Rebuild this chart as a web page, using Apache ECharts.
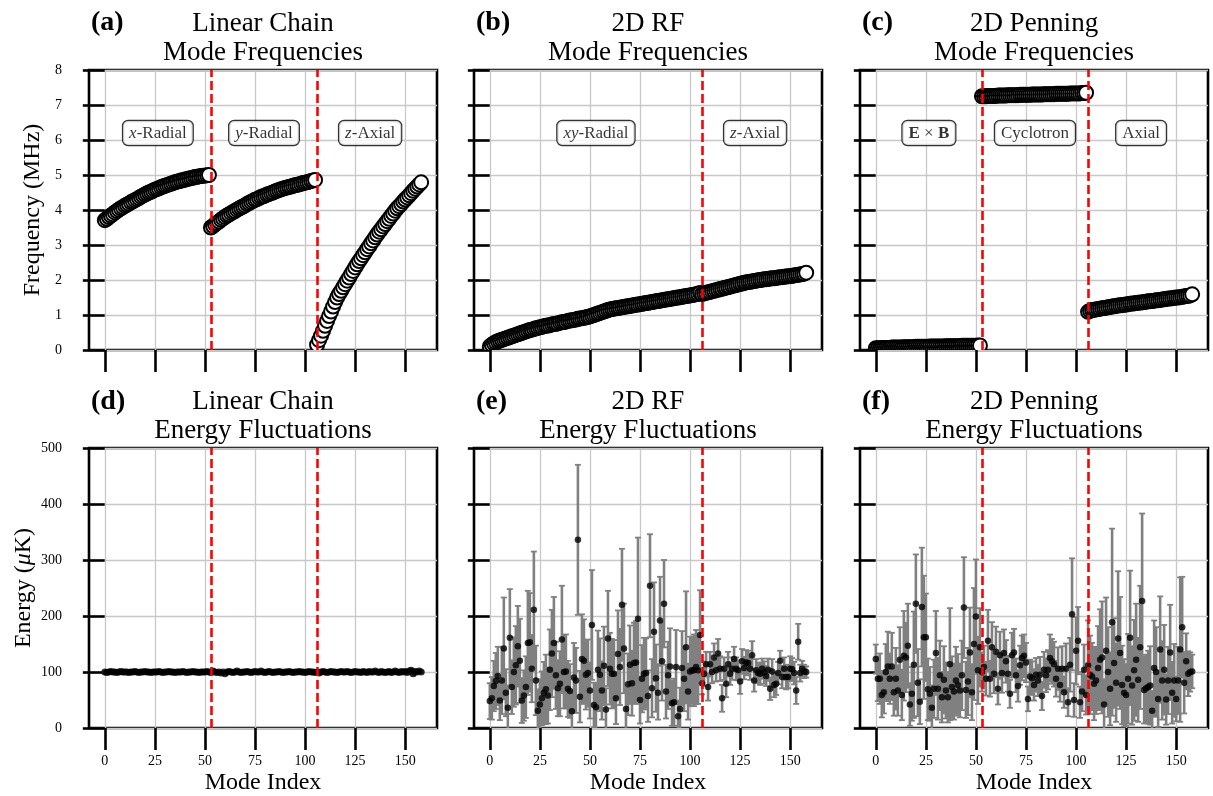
<!DOCTYPE html>
<html><head><meta charset="utf-8">
<script src="https://cdn.jsdelivr.net/npm/echarts@6/dist/echarts.min.js"></script>
<style>html,body{margin:0;padding:0;background:#fff}#c{width:1213px;height:796px}</style>
</head><body><div id="c"></div>
<script>
// ---------------- DATA ----------------
const xTicks = [0, 25, 50, 75, 100, 125, 150];

// Linear chain mode frequencies (MHz): x-Radial (0-52), y-Radial (53-105), z-Axial (106-158)
const freqLinear = [
 3.71,3.75,3.80,3.84,3.88,3.93,3.97,4.01,4.05,4.08,
 4.12,4.15,4.18,4.22,4.25,4.28,4.31,4.34,4.38,4.41,
 4.44,4.47,4.50,4.52,4.55,4.58,4.60,4.62,4.65,4.67,
 4.69,4.71,4.73,4.75,4.77,4.79,4.81,4.82,4.84,4.85,
 4.87,4.88,4.90,4.91,4.92,4.94,4.95,4.96,4.97,4.98,
 4.98,4.99,5.00,
 3.50,3.54,3.59,3.63,3.67,3.72,3.76,3.80,3.84,3.87,
 3.91,3.94,3.97,4.01,4.04,4.07,4.10,4.13,4.17,4.20,
 4.23,4.26,4.29,4.31,4.34,4.37,4.39,4.41,4.44,4.46,
 4.48,4.50,4.53,4.55,4.57,4.59,4.61,4.63,4.64,4.66,
 4.67,4.69,4.71,4.72,4.73,4.75,4.77,4.78,4.79,4.81,
 4.83,4.84,4.86,
 0.15,0.28,0.41,0.55,0.69,0.83,0.97,1.10,1.24,1.37,
 1.50,1.60,1.69,1.79,1.88,1.98,2.07,2.17,2.26,2.36,
 2.45,2.54,2.62,2.71,2.79,2.88,2.96,3.05,3.13,3.22,
 3.30,3.38,3.45,3.53,3.60,3.68,3.75,3.83,3.90,3.98,
 4.05,4.11,4.17,4.24,4.30,4.36,4.42,4.48,4.55,4.61,
 4.67,4.73,4.79
];

// 2D RF mode frequencies (MHz): xy-Radial (0-105), z-Axial (106-158)
const freqRF = [
 0.10,0.15,0.19,0.22,0.25,0.27,0.29,0.31,0.33,0.35,
 0.37,0.39,0.41,0.43,0.45,0.47,0.49,0.51,0.53,0.55,
 0.57,0.58,0.60,0.62,0.63,0.65,0.66,0.68,0.69,0.70,
 0.71,0.73,0.74,0.75,0.76,0.78,0.79,0.80,0.81,0.83,
 0.84,0.85,0.86,0.87,0.89,0.90,0.91,0.92,0.93,0.95,
 0.96,0.98,1.00,1.02,1.04,1.06,1.08,1.10,1.12,1.14,
 1.16,1.17,1.18,1.19,1.20,1.21,1.22,1.23,1.24,1.25,
 1.26,1.27,1.28,1.29,1.30,1.31,1.32,1.33,1.34,1.35,
 1.36,1.37,1.38,1.39,1.40,1.41,1.42,1.43,1.44,1.45,
 1.46,1.47,1.48,1.49,1.50,1.51,1.52,1.53,1.54,1.55,
 1.56,1.57,1.58,1.59,1.61,1.63,
 1.60,1.62,1.63,1.65,1.66,1.68,1.69,1.71,1.72,1.74,
 1.75,1.77,1.78,1.80,1.81,1.83,1.84,1.86,1.87,1.89,
 1.90,1.92,1.93,1.94,1.95,1.96,1.97,1.98,1.99,2.00,
 2.01,2.02,2.02,2.03,2.04,2.05,2.05,2.06,2.07,2.08,
 2.08,2.09,2.10,2.11,2.11,2.12,2.13,2.14,2.15,2.16,
 2.17,2.18,2.21
];

// 2D Penning mode frequencies (MHz): ExB (0-52), Cyclotron (53-105), Axial (106-158)
const freqPenning = [
 0.05,0.05,0.05,0.06,0.06,0.06,0.06,0.06,0.07,0.07,
 0.07,0.07,0.07,0.07,0.08,0.08,0.08,0.08,0.08,0.08,
 0.09,0.09,0.09,0.09,0.09,0.09,0.09,0.10,0.10,0.10,
 0.10,0.10,0.10,0.10,0.10,0.11,0.11,0.11,0.11,0.11,
 0.11,0.11,0.11,0.12,0.12,0.12,0.12,0.12,0.12,0.12,
 0.12,0.13,0.13,
 7.25,7.25,7.25,7.26,7.26,7.26,7.26,7.26,7.27,7.27,
 7.27,7.27,7.27,7.28,7.28,7.28,7.28,7.28,7.28,7.29,
 7.29,7.29,7.29,7.29,7.29,7.30,7.30,7.30,7.30,7.30,
 7.30,7.31,7.31,7.31,7.31,7.31,7.31,7.32,7.32,7.32,
 7.32,7.32,7.32,7.32,7.33,7.33,7.33,7.33,7.33,7.33,
 7.34,7.34,7.35,
 1.09,1.12,1.14,1.15,1.16,1.17,1.18,1.19,1.20,1.21,
 1.22,1.23,1.24,1.25,1.26,1.27,1.28,1.28,1.29,1.30,
 1.31,1.32,1.33,1.33,1.34,1.35,1.36,1.36,1.37,1.38,
 1.39,1.39,1.40,1.41,1.42,1.42,1.43,1.44,1.45,1.46,
 1.47,1.47,1.48,1.49,1.50,1.50,1.51,1.52,1.53,1.54,
 1.55,1.56,1.59
];

// Energy fluctuations (uK) and their error bars
const energyLinear = [
 100,99,100,101,100,100,99,100,101,100,
 100,100,99,100,100,101,100,99,100,100,
 101,100,100,99,100,100,100,101,100,99,
 100,100,101,100,100,99,100,100,100,101,
 100,99,100,100,101,100,100,99,100,100,
 100,101,100,99,102,100,99,100,98,100,
 97,100,101,100,99,100,102,100,99,100,
 100,101,100,99,100,101,100,100,102,100,
 99,100,101,100,99,100,100,101,100,99,
 100,100,101,100,99,100,100,101,100,100,
 99,100,101,100,100,99,100,98,100,101,
 100,99,100,101,100,100,99,100,101,100,
 100,101,100,99,100,101,100,100,99,101,
 100,99,101,100,100,102,100,99,101,100,
 99,100,101,99,100,102,100,99,101,100,
 101,99,102,103,97,101,100,102,100
];
const errLinear = [
 1,2,1,2,1,1,2,1,2,1, 2,1,1,2,1,2,1,1,2,1, 1,2,1,1,2,1,2,1,1,2,
 2,1,2,1,1,2,1,2,1,1, 1,1,2,1,2,1,1,2,1,2, 2,1,1,2,2,1,2,1,2,1,
 2,1,2,1,1,2,2,1,1,2, 1,2,1,1,2,1,2,1,2,1, 1,1,2,2,1,1,2,1,1,2,
 2,1,1,2,1,2,1,1,2,1, 1,2,1,1,2,1,1,2,2,1, 2,1,2,1,1,2,1,1,2,1,
 1,2,1,2,1,1,2,1,1,2, 2,1,2,1,2,2,1,2,1,1, 1,2,2,1,1,2,1,2,2,1,
 2,2,2,3,3,2,2,2,2
];
const energyRF = [
 48,53,75,84,93,49,85,142,63,36,
 161,73,100,112,146,120,49,58,73,152,
 153,106,211,85,31,42,53,63,69,58,
 104,133,152,94,71,79,158,100,101,70,
 66,30,90,85,336,56,123,120,95,98,
 67,184,41,37,104,95,67,111,33,160,
 106,97,97,53,132,109,220,142,34,78,
 113,80,116,117,195,50,88,97,98,57,
 254,71,172,89,63,192,119,222,65,94,
 110,44,46,109,21,34,107,88,144,65,
 101,103,103,109,103,166,80,97,114,73,
 114,100,126,103,133,106,53,106,79,114,
 97,106,123,106,103,83,119,107,117,116,
 106,130,85,103,98,97,106,99,93,104,
 70,101,77,79,98,120,91,106,91,91,
 106,105,98,67,154,98,106,101,100
];
const errRF = [
 32,38,45,50,52,35,60,91,42,40,
 87,48,62,70,72,75,40,45,55,93,
 88,60,104,62,38,45,48,55,62,50,
 72,78,82,60,50,58,96,65,66,50,
 48,36,62,58,134,46,80,74,62,60,
 50,98,40,42,70,65,52,70,38,85,
 64,62,60,46,78,68,100,80,38,55,
 70,58,72,74,145,42,60,64,62,46,
 92,52,88,60,48,78,70,78,48,60,
 68,40,42,66,28,38,66,58,100,50,
 62,60,64,66,60,80,20,22,22,24,
 22,20,25,20,26,22,24,20,24,22,
 20,20,22,20,18,22,22,20,22,22,
 20,25,20,20,18,20,18,20,18,20,
 20,22,22,20,20,18,20,20,22,20,
 22,20,20,24,32,15,14,12,10
];
const energyPenning = [
 123,88,88,59,64,100,110,88,110,64,
 88,67,122,59,129,126,147,42,61,113,
 222,81,47,216,162,162,69,61,36,70,
 134,70,94,55,86,67,55,114,73,65,
 85,77,67,94,215,68,83,135,64,150,
 199,103,144,100,109,88,156,88,144,97,
 136,70,130,98,134,119,97,61,130,135,
 94,75,112,125,129,117,52,92,89,77,
 95,85,95,57,104,94,104,125,119,114,
 88,106,77,106,64,106,46,113,203,50,
 138,156,46,65,104,59,112,95,92,79,
 85,107,122,126,42,138,100,70,189,116,
 81,160,134,77,63,59,88,161,76,103,
 122,86,144,227,68,71,73,76,31,107,
 100,52,140,85,104,51,85,135,63,85,
 52,85,140,180,81,119,97,100,101
];
const errPenning = [
 26,40,45,40,38,50,62,45,60,42,
 55,45,58,45,80,62,75,38,48,95,
 88,60,40,106,110,78,55,48,40,52,
 75,55,62,45,60,50,45,100,55,50,
 60,55,48,62,90,50,60,80,50,100,
 102,60,70,35,38,30,55,32,45,35,
 45,28,42,35,42,38,32,25,40,42,
 30,28,35,40,38,35,22,30,30,28,
 30,28,32,25,32,30,35,42,40,40,
 32,38,30,40,28,45,25,48,100,30,
 60,60,28,35,45,35,80,70,60,65,
 60,75,90,100,45,95,80,65,167,80,
 70,120,100,70,60,55,80,120,70,90,
 100,75,110,156,60,60,65,70,35,85,
 80,50,95,70,80,45,60,85,55,65,
 40,60,129,90,55,50,40,35,30
];

const dividersLinear = [53, 106];
const dividersRF = [106];
const dividersPenning = [53, 106];

const titleTexts = [
 'Linear Chain\nMode Frequencies', '2D RF\nMode Frequencies', '2D Penning\nMode Frequencies',
 'Linear Chain\nEnergy Fluctuations', '2D RF\nEnergy Fluctuations', '2D Penning\nEnergy Fluctuations'
];
const panelTags = ['(a)', '(b)', '(c)', '(d)', '(e)', '(f)'];

const regionLabelsLinear = [[26.5, 6.2, '{i|x}-Radial'], [79.5, 6.2, '{i|y}-Radial'], [132.5, 6.2, '{i|z}-Axial']];
const regionLabelsRF = [[53, 6.2, '{i|xy}-Radial'], [132.5, 6.2, '{i|z}-Axial']];
const regionLabelsPenning = [[26.5, 6.2, '{b|E} × {b|B}'], [79.5, 6.2, 'Cyclotron'], [132.5, 6.2, 'Axial']];

// ---------------- LAYOUT / STYLE ----------------
const FONT = '"Liberation Serif", "DejaVu Serif", serif';
const colLeft = [89, 474, 860];
const rowTop = [70, 448];
const rowH = [280, 281];
const W = 348;

const topFreq = [freqLinear, freqRF, freqPenning];
const topDiv = [dividersLinear, dividersRF, dividersPenning];
const topLabels = [regionLabelsLinear, regionLabelsRF, regionLabelsPenning];
const botE = [energyLinear, energyRF, energyPenning];
const botErr = [errLinear, errRF, errPenning];

function renderOpen(params, api) {
  const p = api.coord([api.value(0), api.value(1)]);
  return { type: 'circle', shape: { cx: p[0], cy: p[1], r: 7 },
           style: { fill: '#ffffff', stroke: '#000000', lineWidth: 2 } };
}
function renderErr(params, api) {
  const x = api.value(0), y = api.value(1), e = api.value(2);
  const lo = api.coord([x, y - e]);
  const hi = api.coord([x, y + e]);
  const cw = 3;
  const bar = { stroke: '#808080', lineWidth: 2.6 };
  const cap = { stroke: '#808080', lineWidth: 1.8 };
  return { type: 'group', children: [
    { type: 'line', shape: { x1: lo[0], y1: lo[1], x2: hi[0], y2: hi[1] }, style: bar },
    { type: 'line', shape: { x1: hi[0] - cw, y1: hi[1], x2: hi[0] + cw, y2: hi[1] }, style: cap },
    { type: 'line', shape: { x1: lo[0] - cw, y1: lo[1], x2: lo[0] + cw, y2: lo[1] }, style: cap }
  ]};
}

const grids = [], xAxes = [], yAxes = [], series = [], graphics = [];
const gridLineMark = {
  silent: true, z: 1, symbol: ['none', 'none'], label: { show: false },
  lineStyle: { color: '#c8c8c8', type: 'solid', width: 1.3 },
  data: xTicks.map(v => ({ xAxis: v })), animation: false
};
function redMark(divs) {
  return { silent: true, z: 5, symbol: ['none', 'none'], label: { show: false },
    lineStyle: { color: '#ff0000', type: [9, 4], width: 2.6 },
    data: divs.map(v => ({ xAxis: v })), animation: false };
}

for (let r = 0; r < 2; r++) {
  for (let c = 0; c < 3; c++) {
    const g = r * 3 + c;
    grids.push({ left: colLeft[c], top: rowTop[r], width: W, height: rowH[r],
      show: true, borderColor: '#000', borderWidth: 2.6, backgroundColor: 'transparent' });
    xAxes.push({
      gridIndex: g, type: 'value', min: -7.9, max: 165.9,
      axisLine: { show: false },
      axisTick: { show: true, customValues: xTicks, length: 22, lineStyle: { color: '#000', width: 2.6 } },
      axisLabel: { show: r === 1, customValues: xTicks, margin: 26, fontSize: 14, fontFamily: FONT, color: '#000' },
      splitLine: { show: false },
      name: r === 1 ? 'Mode Index' : '', nameLocation: 'middle', nameGap: 43,
      nameTextStyle: { fontSize: 24, fontFamily: FONT, color: '#000' }
    });
    yAxes.push({
      gridIndex: g, type: 'value', min: 0, max: r === 0 ? 8 : 500, interval: r === 0 ? 1 : 100,
      axisLine: { show: false },
      axisTick: { show: true, length: 22, lineStyle: { color: '#000', width: 2.6 } },
      axisLabel: { show: c === 0, margin: 27, fontSize: 14, fontFamily: FONT, color: '#000' },
      splitLine: { show: true, lineStyle: { color: '#c8c8c8', width: 1.3 } },
      name: c === 0 ? (r === 0 ? 'Frequency (MHz)' : 'Energy ({m|μ}K)') : '',
      nameLocation: 'middle', nameGap: r === 0 ? 44 : 53,
      nameTextStyle: { fontSize: 24, fontFamily: FONT, color: '#000',
        rich: { m: { fontSize: 24, fontFamily: FONT, fontStyle: 'italic', color: '#000' } } }
    });

    if (r === 0) {
      series.push({
        type: 'custom', xAxisIndex: g, yAxisIndex: g, renderItem: renderOpen, clip: true, z: 3,
        encode: { x: 0, y: 1 }, data: topFreq[c].map((v, i) => [i, v]),
        markLine: redMark(topDiv[c]), animation: false
      });
      series.push({
        type: 'scatter', xAxisIndex: g, yAxisIndex: g, z: 6, symbolSize: 1,
        itemStyle: { color: 'rgba(0,0,0,0)' }, silent: true,
        data: topLabels[c].map(a => ({ value: [a[0], a[1]], label: { formatter: a[2] } })),
        label: { show: true, position: 'inside', fontSize: 17, fontFamily: FONT, color: '#000',
          backgroundColor: '#fff', borderColor: '#000', borderWidth: 1.2, borderRadius: 5,
          padding: [4, 6, 3, 6],
          rich: { i: { fontStyle: 'italic', fontSize: 17, fontFamily: FONT, color: '#000' },
                  b: { fontWeight: 'bold', fontSize: 17, fontFamily: FONT, color: '#000' } } },
        markLine: gridLineMark, animation: false
      });
    } else {
      series.push({
        type: 'custom', xAxisIndex: g, yAxisIndex: g, renderItem: renderErr, clip: true, z: 2,
        encode: { x: 0, y: 1 }, data: botE[c].map((v, i) => [i, v, botErr[c][i]]),
        markLine: gridLineMark, animation: false
      });
      series.push({
        type: 'scatter', xAxisIndex: g, yAxisIndex: g, z: 3, symbolSize: c === 0 ? 7 : 6.5,
        itemStyle: { color: '#000' }, data: botE[c].map((v, i) => [i, v]),
        markLine: redMark(topDiv[c]), animation: false
      });
    }

    graphics.push({ type: 'text', x: colLeft[c] + W / 2, y: 9 + r * 378.4, silent: true,
      style: { text: titleTexts[g], fill: '#000', fontSize: 27, fontFamily: FONT,
        align: 'center', verticalAlign: 'top', textAlign: 'center', textVerticalAlign: 'top', lineHeight: 29 } });
    graphics.push({ type: 'text', x: colLeft[c] + 2, y: 23 + r * 378.4, silent: true,
      style: { text: panelTags[g], fill: '#000', fontSize: 28, fontWeight: 'bold', fontFamily: FONT,
        align: 'left', verticalAlign: 'middle', textAlign: 'left', textVerticalAlign: 'middle' } });
  }
}

const chart = echarts.init(document.getElementById('c'), null, { renderer: 'canvas' });
chart.setOption({
  animation: false,
  backgroundColor: '#fff',
  grid: grids, xAxis: xAxes, yAxis: yAxes, series: series,
  graphic: graphics
});
</script></body></html>
